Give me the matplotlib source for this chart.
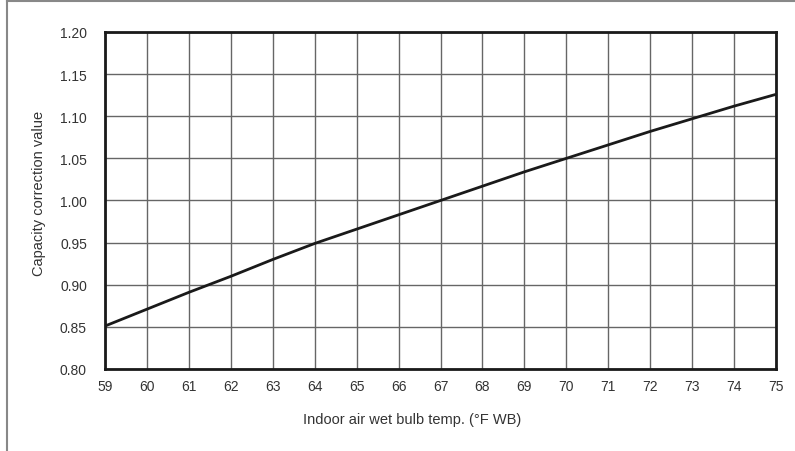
import matplotlib.pyplot as plt
import numpy as np
from matplotlib.lines import Line2D

plt.rcParams['font.family'] = ['Liberation Sans', 'DejaVu Sans']

# indoor wet bulb temp (°F WB) and capacity correction factor
temp_f = [59, 60, 61, 62, 63, 64, 65, 66, 67, 68, 69, 70, 71, 72, 73, 74, 75]
correction = [0.851, 0.871, 0.891, 0.910, 0.930, 0.949, 0.966, 0.983, 1.000,
              1.017, 1.034, 1.050, 1.066, 1.082, 1.097, 1.112, 1.126]

x_ticks = list(range(59, 76))
y_ticks = [0.80, 0.85, 0.90, 0.95, 1.00, 1.05, 1.10, 1.15, 1.20]

txt = '#333333'

fig = plt.figure(figsize=(7.95, 4.52), dpi=100)
ax = fig.add_axes([105/795, 1 - 370/452, (776 - 105)/795, (370 - 33)/452])

ax.plot(temp_f, correction, color='#1a1a1a', lw=2, solid_capstyle='butt', zorder=3)

ax.set_xlim(59, 75)
ax.set_ylim(0.80, 1.20)
ax.set_xticks(x_ticks)
ax.set_yticks(y_ticks)
ax.set_yticklabels(['%.2f' % v for v in y_ticks])
ax.grid(True, color='#666666', lw=1)
ax.tick_params(length=0, labelsize=10, colors=txt)
ax.tick_params(axis='x', pad=7.5)
ax.tick_params(axis='y', pad=13)
for s in ax.spines.values():
    s.set_color('#1a1a1a')
    s.set_linewidth(2)

# axis titles placed as in the original (x title sits left of centre)
fig.text(412/795, 1 - 420/452, 'Indoor air wet bulb temp. (°F WB)', fontsize=10.5,
         color=txt, ha='center', va='center')
fig.text(39/795, 1 - 193/452, 'Capacity correction value', fontsize=10.5,
         color=txt, ha='center', va='center', rotation=90)

# outer frame (left and top edges only visible)
fig.add_artist(Line2D([7/795, 7/795], [0, 1 - 2/452], color='#888888', lw=1.5))
fig.add_artist(Line2D([7/795, 1], [1 - 2/452, 1 - 2/452], color='#888888', lw=1.5))

fig.savefig('out.png', dpi=100)
